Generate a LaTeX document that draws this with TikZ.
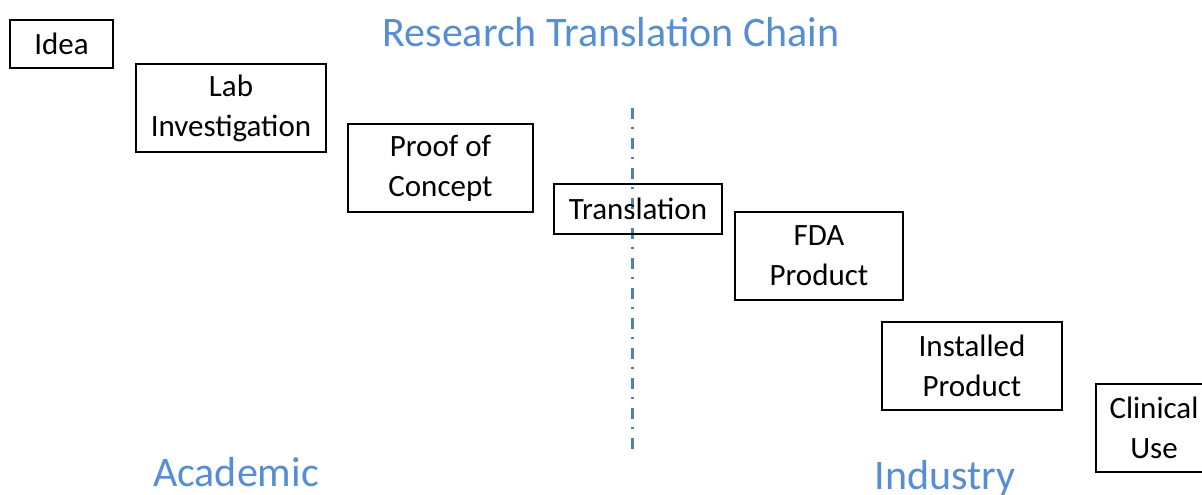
\documentclass[tikz,border=0pt]{standalone}
\usepackage{fontspec}
\setmainfont{Carlito}
\definecolor{titleblue}{RGB}{85,142,213}
\definecolor{lineblue}{RGB}{79,129,189}
\begin{document}
\begin{tikzpicture}[x=1pt,y=-1pt,
  stage/.style={draw=black,line width=2pt,inner sep=0pt,align=center,
    font=\fontsize{31}{40}\selectfont},
  heading/.style={text=titleblue,inner sep=0pt,font=\fontsize{42}{50}\selectfont}]
\useasboundingbox (0,0) rectangle (1202,495);
\clip (0,0) rectangle (1202,495);
\fill[white] (0,0) rectangle (1202,495);
\node[heading] (title) at (611,32) {Research Translation Chain};
\node[heading] (acad) at (236,472) {Academic};
\node[heading] (ind) at (945,478) {Industry};
\coordinate (divtop) at (632,108);
\coordinate (divbot) at (632,455);
\draw[lineblue,line width=3pt,dash pattern=on 11pt off 8pt on 2pt off 9pt] (divtop) -- (divbot);
\node[stage,minimum width=103pt,minimum height=48pt] (idea) at (61.5,44) {Idea};
\node[stage,minimum width=190pt,minimum height=88pt] (lab) at (231,108) {Lab\\Investigation};
\node[stage,minimum width=185pt,minimum height=88pt] (poc) at (440.5,168) {Proof of\\Concept};
\node[stage,minimum width=168pt,minimum height=50pt,fill=none] (trans) at (638,209) {Translation};
\node[stage,minimum width=168pt,minimum height=88pt] (fda) at (819,256) {FDA\\Product};
\node[stage,minimum width=180pt,minimum height=88pt] (inst) at (972,366) {Installed\\Product};
\node[stage,minimum width=116pt,minimum height=88pt,text width=116pt] (clin) at (1154,428) {Clinical\\Use};
\end{tikzpicture}
\end{document}
